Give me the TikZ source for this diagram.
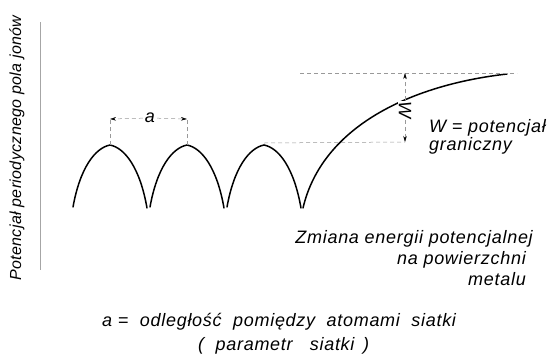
\documentclass[tikz,border=0pt]{standalone}
\usepackage{fontspec}
\setmainfont{Liberation Sans}
\usetikzlibrary{arrows.meta}
\begin{document}
\begin{tikzpicture}[x=1pt,y=-1pt,
  curve/.style={line width=1.5pt, line cap=round},
  guide/.style={gray!80, line width=0.5pt, dash pattern=on 4pt off 3pt},
  dimarrow/.style={guide, -{Stealth[length=6pt,width=3.5pt,black]}},
  lbl/.style={font=\fontsize{18}{21}\selectfont\itshape\addfontfeatures{LetterSpace=4}, inner sep=0pt}]
\useasboundingbox (0,0) rectangle (556,357);
% axis
\draw[gray!70, line width=0.5pt] (40,22) -- (40,270);
\node[lbl, rotate=90, font=\fontsize{16}{19}\selectfont\itshape\addfontfeatures{LetterSpace=2}] (ylab) at (17,148) {Potencjał periodycznego pola jonów};
% arches
\foreach \s in {0,77,154}{
  \draw[curve] (73+\s,207) .. controls (80+\s,168) and (95+\s,148) .. (110+\s,145)
               .. controls (125+\s,148) and (140+\s,168) .. (147+\s,208);
}
% rising curve
\draw[curve] (303,208) .. controls (322,127) and (410,85) .. (507,74);
% guides
\coordinate (p1) at (110,145);
\coordinate (p2) at (187,145);
\coordinate (p3) at (264,143);
\coordinate (a1) at (110,119);
\coordinate (a2) at (187,119);
\coordinate (wb) at (405,142);
\coordinate (wt) at (405,73);
\coordinate (tl) at (300,73);
\coordinate (tr) at (517,73);
\draw[guide] (p1) -- (a1);
\draw[guide] (p2) -- (a2);
\draw[guide] (p3) -- (wb);
\draw[guide] (tl) -- (tr);
\node[lbl, fill=white, inner sep=2pt] (alab) at (150,118) {a};
\draw[dimarrow] (alab) -- (a1);
\draw[dimarrow] (alab) -- (a2);
\node[lbl, rotate=-90, fill=white, inner sep=1pt] (wlab) at (405,110) {W};
\draw[dimarrow] (wlab) -- (wt);
\draw[dimarrow] (wlab) -- (wb);
% labels
\node[lbl, anchor=base west] (w1) at (429,132) {W = potencjał};
\node[lbl, anchor=base west] (w2) at (429,150) {graniczny};
\node[lbl, anchor=base east] (z1) at (533,243) {Zmiana energii potencjalnej};
\node[lbl, anchor=base east] (z2) at (526,264) {na powierzchni};
\node[lbl, anchor=base east] (z3) at (526,285) {metalu};
\node[lbl, anchor=base west] (b1) at (102,326) {a = \ odległość \ pomiędzy \ atomami \ siatki};
\node[lbl, anchor=base west] (b2) at (198,350) {( \ parametr \ \ siatki \,)};
\end{tikzpicture}
\end{document}
